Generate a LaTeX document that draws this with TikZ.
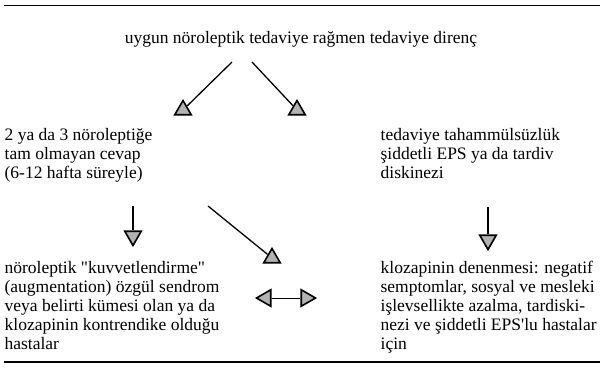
\documentclass[tikz,border=0pt]{standalone}
\usepackage{fontspec}
\setmainfont{Liberation Serif}
\usepackage{tikz}
\usetikzlibrary{shapes.geometric}
\newcommand\dq{\XeTeXglyph\XeTeXglyphindex "quotedbl"\relax}
\newcommand\sq{\XeTeXglyph\XeTeXglyphindex "quotesingle"\relax}

\begin{document}
\begin{tikzpicture}[x=1pt,y=-1pt,
  txt/.style={anchor=base west, align=left, inner sep=0pt},
  tri/.style={regular polygon, regular polygon sides=3, draw=black,
    line width=1.6pt, fill=gray!60, inner sep=0pt, minimum size=19pt},
  rule/.style={line width=1.8pt}]
\fill [white] (0,0) rectangle (603,376);
\begin{scope}[line width=1.3pt,font=\fontsize{17.5}{18.8}\selectfont]

% Texts (base = baseline of the last line)
\node [anchor=base] (title) at (301,43) {uygun nöroleptik tedaviye rağmen tedaviye direnç};
\node [txt] (mid-l) at (4,178) {2 ya da 3 nöroleptiğe\\tam olmayan cevap\\(6-12 hafta süreyle)};
\node [txt] (mid-r) at (380,178) {tedaviye tahammülsüzlük\\şiddetli EPS ya da tardiv\\diskinezi};
\node [txt] (bot-l) at (4,349) {nöroleptik \dq kuvvetlendirme\dq\\(augmentation) özgül sendrom\\veya belirti kümesi olan ya da\\klozapinin kontrendike olduğu\\hastalar};
\node [txt] (bot-r) at (380,349) {klozapinin denenmesi: negatif\\semptomlar, sosyal ve mesleki\\işlevsellikte azalma, tardiski-\\nezi ve şiddetli EPS\sq lu hastalar\\için};

% Arrow heads
\node [tri] (tri-l) at (183,110) {};
\node [tri] (tri-r) at (297,110) {};
\node [tri, shape border rotate=180] (tri-dl) at (133,236) {};
\node [tri] (tri-x) at (272,258) {};
\node [tri, shape border rotate=180] (tri-dr) at (488,240) {};
\node [tri, shape border rotate=90] (tri-w) at (266,298) {};
\node [tri, shape border rotate=270] (tri-e) at (306,298) {};

% Arrows
\coordinate (s-l) at (232,62);
\coordinate (s-r) at (252,62);
\coordinate (s-dl) at (133,206);
\coordinate (s-x) at (208,206);
\coordinate (s-dr) at (488,207);
\draw (s-l) -- (tri-l);
\draw (s-r) -- (tri-r);
\draw (s-dl) -- (tri-dl);
\draw (s-x) -- (tri-x);
\draw (s-dr) -- (tri-dr);
\draw [line width=0.8pt] (tri-w) -- (tri-e);

% Rules
\draw [rule] (4,5.5) -- (600,5.5);
\draw [rule] (4,362) -- (600,362);

\end{scope}
\end{tikzpicture}
\end{document}
